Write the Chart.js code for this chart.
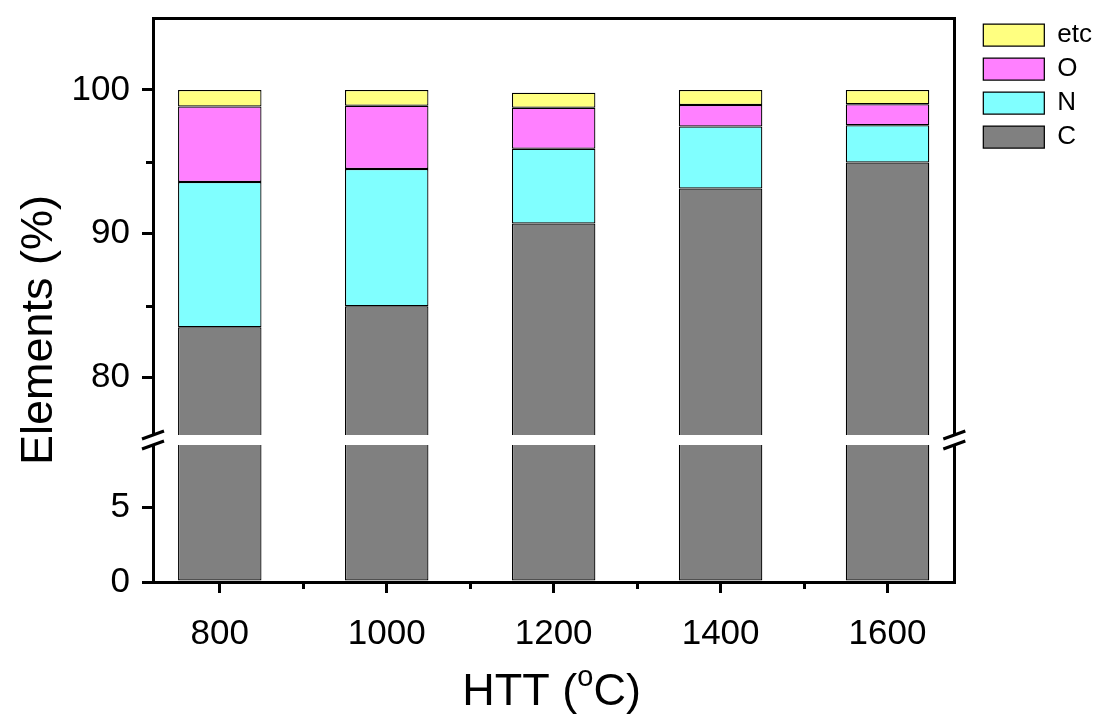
<!DOCTYPE html>
<html>
<head>
<meta charset="utf-8">
<script src="https://cdn.jsdelivr.net/npm/chart.js@4.4.1/dist/chart.umd.min.js"></script>
<style>
  html, body { margin: 0; padding: 0; background: #fff; }
  #wrap { width: 1096px; height: 718px; position: relative; }
</style>
</head>
<body>
<div id="wrap"><canvas id="chart"></canvas></div>
<script>
// HTT (heat treatment temperature, oC) and element contents (%)
const htt = [800, 1000, 1200, 1400, 1600];
const carbon = [83.5, 84.95, 90.7, 93.15, 94.95];
const nitrogen = [10.1, 9.55, 5.2, 4.3, 2.6];
const oxygen = [5.25, 4.4, 2.85, 1.5, 1.45];
const etc = [1.15, 1.1, 1.05, 1.05, 1.0];

// axis ranges and ticks (broken y axis)
const xRange = [720, 1680];
const xMinorTicks = [900, 1100, 1300, 1500];
const yLowerRange = [0, 9.2];
const yUpperRange = [76, 105];
const yLowerTicks = [0, 5];
const yUpperTicks = [80, 90, 100];
const yUpperMinorTicks = [85, 95];

const FONT = '"Liberation Sans", Arial, sans-serif';

const pts = (vals) => htt.map((x, i) => ({ x: x, y: vals[i] }));

const barStyle = {
  borderColor: '#000',
  borderWidth: 1.25,
  borderSkipped: false,
  barPercentage: 0.5,
  categoryPercentage: 1.0,
};

const data = {
  datasets: [
    // lower part of the broken axis (only carbon reaches it)
    { label: 'C', data: pts(carbon), backgroundColor: '#808080', yAxisID: 'yLow', lowerPart: true, ...barStyle },
    { label: 'C', data: pts(carbon), backgroundColor: '#808080', yAxisID: 'yHigh', ...barStyle },
    { label: 'N', data: pts(nitrogen), backgroundColor: '#80FFFF', yAxisID: 'yHigh', ...barStyle },
    { label: 'O', data: pts(oxygen), backgroundColor: '#FF80FF', yAxisID: 'yHigh', ...barStyle },
    { label: 'etc', data: pts(etc), backgroundColor: '#FFFF80', yAxisID: 'yHigh', ...barStyle },
  ],
};

// each y segment only shows its own bars
const clipToSegment = {
  id: 'clipToSegment',
  beforeDatasetDraw(chart, args) {
    const ys = chart.scales[args.meta.yAxisID];
    const ctx = chart.ctx;
    ctx.save();
    ctx.beginPath();
    ctx.rect(chart.chartArea.left, ys.top, chart.chartArea.width, ys.bottom - ys.top);
    ctx.clip();
  },
  afterDatasetDraw(chart) {
    chart.ctx.restore();
  },
};

// minor ticks, axis breaks and axis titles
const extras = {
  id: 'extras',
  afterDraw(chart) {
    const ctx = chart.ctx;
    const area = chart.chartArea;
    const x = chart.scales.x;
    const yHigh = chart.scales.yHigh;
    const gap = chart.scales.yGap;
    ctx.save();
    ctx.strokeStyle = '#000';
    ctx.lineWidth = 3;
    ctx.beginPath();
    xMinorTicks.forEach(v => {
      const px = Math.round(x.getPixelForValue(v)) + 0.5;
      ctx.moveTo(px, area.bottom);
      ctx.lineTo(px, area.bottom + 7);
    });
    yUpperMinorTicks.forEach(v => {
      const py = Math.round(yHigh.getPixelForValue(v)) + 0.5;
      ctx.moveTo(area.left, py);
      ctx.lineTo(area.left - 7, py);
    });
    ctx.stroke();

    // break marks on left and right axes
    [area.left, area.right].forEach(ax => {
      ctx.fillStyle = '#fff';
      ctx.fillRect(ax - 3, gap.top, 6, gap.bottom - gap.top);
      ctx.beginPath();
      [gap.top, gap.bottom].forEach(yc => {
        ctx.moveTo(ax - 11, yc + 4);
        ctx.lineTo(ax + 11, yc - 4);
      });
      ctx.stroke();
    });

    // x title with superscript
    ctx.fillStyle = '#000';
    ctx.textBaseline = 'alphabetic';
    ctx.textAlign = 'left';
    const big = '45px ' + FONT;
    const small = '29px ' + FONT;
    ctx.font = big;
    const w1 = ctx.measureText('HTT (').width;
    const w3 = ctx.measureText('C)').width;
    ctx.font = small;
    const w2 = ctx.measureText('o').width;
    let tx = (area.left + area.right) / 2 - 2 - (w1 + w2 + w3) / 2;
    const base = 705;
    ctx.font = big;
    ctx.fillText('HTT (', tx, base);
    tx += w1;
    ctx.font = small;
    ctx.fillText('o', tx, base - 19);
    tx += w2;
    ctx.font = big;
    ctx.fillText('C)', tx, base);

    // y title
    ctx.translate(40, 330);
    ctx.rotate(-Math.PI / 2);
    ctx.textAlign = 'center';
    ctx.textBaseline = 'middle';
    ctx.font = big;
    ctx.fillText('Elements (%)', 0, 0);
    ctx.restore();
  },
};

const tickFont = { family: FONT, size: 35 };

function leftAxis(range, ticks, weight, showTicks) {
  return {
    type: 'linear',
    position: 'left',
    stack: 'left',
    stackWeight: weight,
    stacked: true,
    min: range[0],
    max: range[1],
    afterBuildTicks: (s) => { s.ticks = ticks.map(v => ({ value: v })); },
    afterFit: (s) => { s.width = 153; s.paddingTop = 0; s.paddingBottom = 0; },
    grid: { display: showTicks, drawOnChartArea: false, drawTicks: true, tickLength: 11, lineWidth: 3, color: '#000' },
    border: { display: showTicks, width: 3, color: '#000' },
    ticks: { display: showTicks, font: tickFont, color: '#000', padding: 12, callback: (v) => String(v) },
  };
}

new Chart(document.getElementById('chart'), {
  type: 'bar',
  data: data,
  plugins: [clipToSegment, extras],
  options: {
    responsive: true,
    maintainAspectRatio: false,
    animation: false,
    devicePixelRatio: 1,
    layout: { padding: { top: 14, left: 0, right: -6, bottom: 0 } },
    plugins: {
      tooltip: { enabled: false },
      legend: {
        position: 'right',
        align: 'start',
        reverse: true,
        maxWidth: 300,
        labels: {
          filter: (item, d) => !d.datasets[item.datasetIndex].lowerPart,
          boxWidth: 61,
          boxHeight: 22,
          padding: 8,
          color: '#000',
          font: { family: FONT, size: 26 },
        },
      },
    },
    scales: {
      x: {
        type: 'linear',
        position: 'bottom',
        stacked: true,
        offset: false,
        min: xRange[0],
        max: xRange[1],
        afterBuildTicks: (s) => { s.ticks = htt.map(v => ({ value: v })); },
        afterFit: (s) => { s.height = 136; s.paddingLeft = 0; s.paddingRight = 0; },
        grid: { offset: false, drawOnChartArea: false, drawTicks: true, tickLength: 11, lineWidth: 3, color: '#000' },
        border: { width: 3, color: '#000' },
        ticks: { font: tickFont, color: '#000', padding: 20, maxRotation: 0, autoSkip: false, callback: (v) => String(v) },
      },
      xTop: {
        type: 'linear',
        position: 'top',
        offset: false,
        min: xRange[0],
        max: xRange[1],
        afterFit: (s) => { s.height = 4; s.paddingLeft = 0; s.paddingRight = 0; },
        grid: { display: false },
        border: { width: 3, color: '#000' },
        ticks: { display: false },
      },
      yLow: leftAxis(yLowerRange, yLowerTicks, 137, true),
      yGap: leftAxis([0, 1], [], 10, false),
      yHigh: leftAxis(yUpperRange, yUpperTicks, 417, true),
      yRight: {
        type: 'linear',
        position: 'right',
        min: 0,
        max: 1,
        afterFit: (s) => { s.width = 21; s.paddingTop = 0; s.paddingBottom = 0; },
        grid: { display: false },
        border: { width: 3, color: '#000' },
        ticks: { display: false },
      },
    },
  },
});
</script>
</body>
</html>
